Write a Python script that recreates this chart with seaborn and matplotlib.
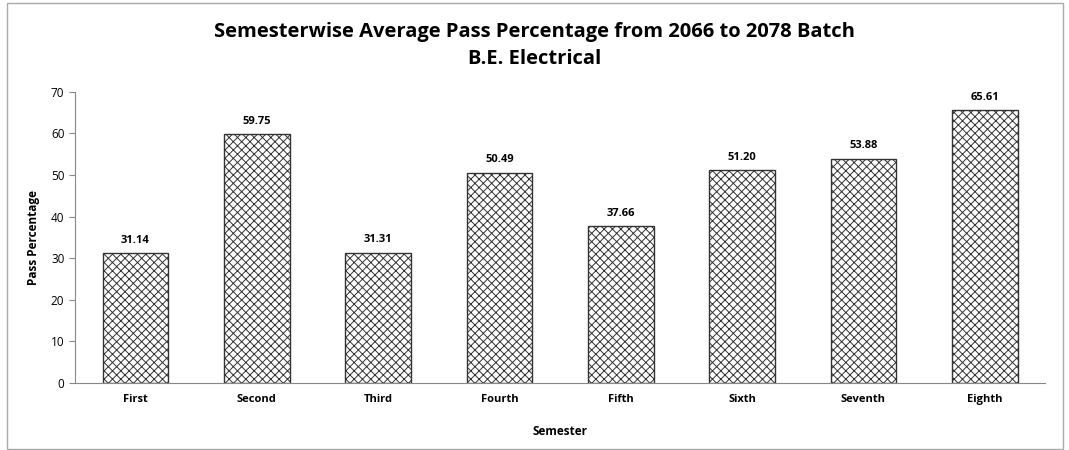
import matplotlib
matplotlib.use('Agg')
import matplotlib.pyplot as plt
from matplotlib.patches import Rectangle
import pandas as pd
import seaborn as sns

semesters = ['First', 'Second', 'Third', 'Fourth', 'Fifth', 'Sixth',
             'Seventh', 'Eighth']
pass_pct = [31.14, 59.75, 31.31, 50.49, 37.66, 51.20, 53.88, 65.61]

df = pd.DataFrame({'semester': semesters, 'pct': pass_pct})

sns.set_style('white')
plt.rcParams['font.family'] = ['Open Sans', 'DejaVu Sans']
plt.rcParams['text.color'] = 'black'
plt.rcParams['axes.labelcolor'] = 'black'
plt.rcParams['xtick.color'] = 'black'
plt.rcParams['ytick.color'] = 'black'
plt.rcParams['hatch.linewidth'] = 0.7

fig = plt.figure(figsize=(10.69, 4.5), dpi=100)
ax = fig.add_axes([0.070, 0.149, 0.908, 0.647])

# white bars with a crosshatch fill
sns.barplot(data=df, x='semester', y='pct', color='white', width=0.54,
            edgecolor='#222222', linewidth=1.0, ax=ax)
for bar in ax.patches:
    bar.set_hatch('xxxx')
    bar.set_edgecolor('#333333')

# value labels above bars
for bar, v in zip(ax.patches, pass_pct):
    ax.text(bar.get_x() + bar.get_width() / 2, v + 1.8, f'{v:.2f}',
            ha='center', va='bottom', fontsize=8, fontweight='bold')

ax.set_ylim(0, 70)
ax.set_yticks(range(0, 71, 10))
ax.set_xlim(-0.5, 7.5)
ax.tick_params(axis='y', labelsize=8.5, length=4, color='#888888',
               direction='out', left=True)
ax.tick_params(axis='x', labelsize=8, length=0, pad=8)
for lbl in ax.get_xticklabels():
    lbl.set_fontweight('bold')
ax.set_xlabel('Semester', fontsize=8.5, fontweight='bold', labelpad=14)
ax.set_ylabel('Pass Percentage', fontsize=8.5, fontweight='bold', labelpad=8)

sns.despine(ax=ax, top=True, right=True)
for side in ['left', 'bottom']:
    ax.spines[side].set_color('#888888')
    ax.spines[side].set_linewidth(0.8)

fig.text(0.5, 0.930, 'Semesterwise Average Pass Percentage from 2066 to 2078 Batch',
         ha='center', va='center', fontsize=14.5, fontweight='bold')
fig.text(0.5, 0.870, 'B.E. Electrical', ha='center', va='center',
         fontsize=14.5, fontweight='bold')

# outer chart border
fig.patches.append(Rectangle((7 / 1069, 0.003), 1056 / 1069, 0.99,
                             transform=fig.transFigure, fill=False,
                             edgecolor='#aaaaaa', linewidth=1.0))

fig.savefig('out.png', dpi=100)
